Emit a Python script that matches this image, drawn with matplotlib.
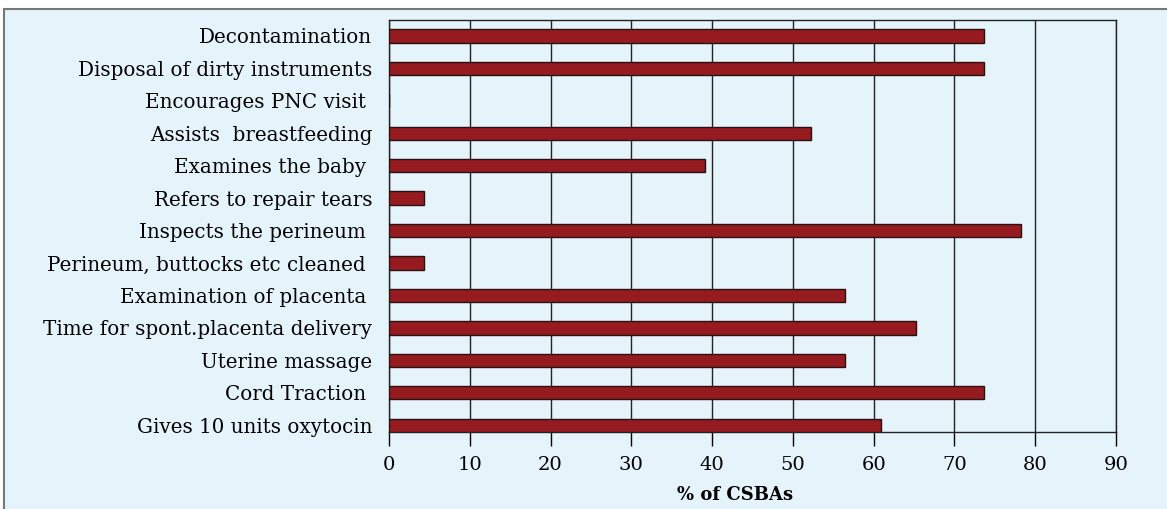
import matplotlib
matplotlib.use('Agg')
import matplotlib.pyplot as plt
from matplotlib.patches import Rectangle

# Data, bottom to top
tasks = ['Gives 10 units oxytocin', 'Cord Traction ', 'Uterine massage',
         'Time for spont.placenta delivery', 'Examination of placenta ',
         'Perineum, buttocks etc cleaned ', 'Inspects the perineum ',
         'Refers to repair tears', 'Examines the baby ', 'Assists  breastfeeding',
         'Encourages PNC visit ', 'Disposal of dirty instruments', 'Decontamination']
pct = [60.9, 73.7, 56.5, 65.2, 56.5, 4.3, 78.3, 4.3, 39.1, 52.2, 0, 73.7, 73.7]
xticks = [0, 10, 20, 30, 40, 50, 60, 70, 80, 90]

bg = '#e5f3fb'
bar_color = '#951b20'

plt.rcParams['font.family'] = ['DejaVu Serif']

fig = plt.figure(figsize=(11.67, 5.09), dpi=100)
fig.patch.set_facecolor('white')

# light blue panel with grey frame, behind the axes
fig.patches.append(Rectangle((4 / 1167, -0.01), 1.0, 1 - 9 / 509 + 0.01,
                             transform=fig.transFigure, facecolor=bg,
                             edgecolor='#777777', linewidth=1.5, zorder=-10))

ax = fig.add_axes([389 / 1167, 1 - 432 / 509, (1116 - 389) / 1167, (432 - 20) / 509])
ax.set_facecolor(bg)

ax.barh(range(len(tasks)), pct, height=0.41, color=bar_color,
        edgecolor='#2a1010', linewidth=1, zorder=3)

ax.set_xlim(0, 90)
ax.set_ylim(-0.21, 12.49)
ax.set_xticks(xticks)
ax.set_yticks(range(len(tasks)))
ax.set_yticklabels(tasks, fontsize=14.3)
ax.tick_params(axis='y', length=0, pad=12)
ax.tick_params(axis='x', direction='out', length=10, width=1, labelsize=14, pad=7)
ax.xaxis.grid(True, color='#222222', linewidth=1)
ax.set_axisbelow(True)
for s in ax.spines.values():
    s.set_color('#222222')
    s.set_linewidth(1)

ax.set_xlabel('% of CSBAs', fontsize=13, fontweight='bold')
ax.xaxis.set_label_coords((735 - 389) / 727, -0.13)

fig.savefig('out.png', dpi=100)
